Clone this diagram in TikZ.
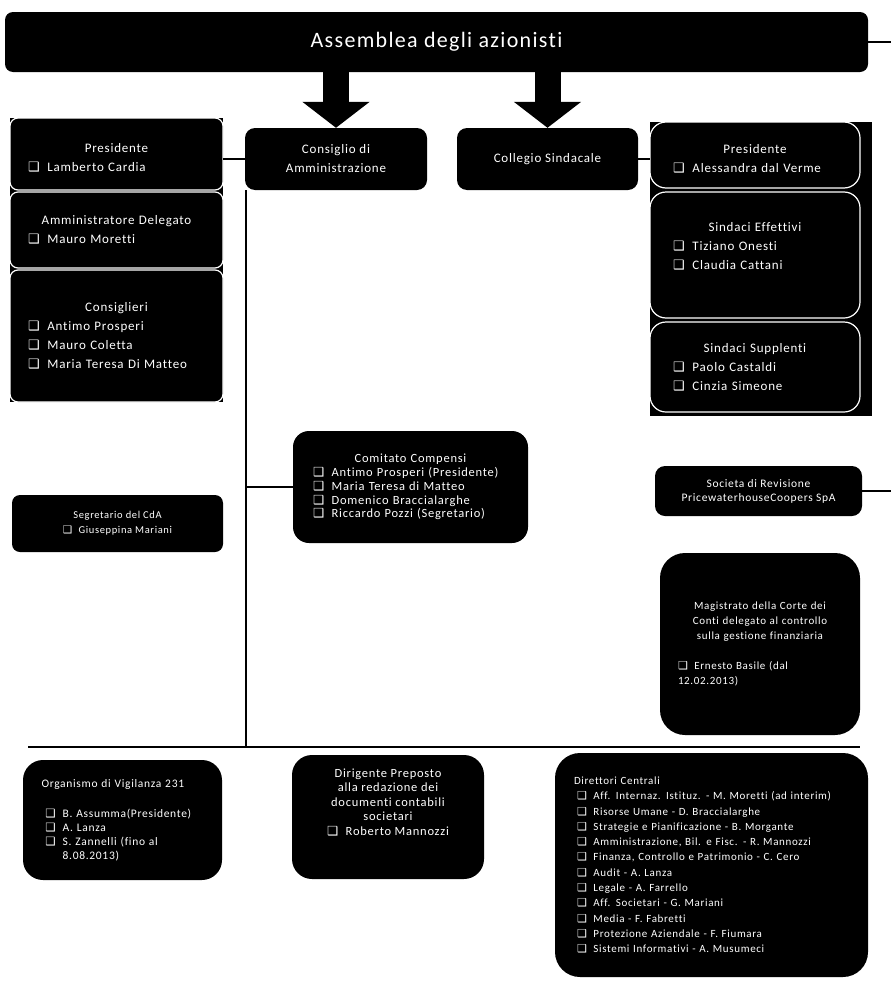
\documentclass[tikz,border=0pt]{standalone}
\usepackage{fontspec}
\setmainfont{Carlito}[LetterSpace=6,Ligatures=NoCommon]
\newfontfamily\dejavu{DejaVu Sans}
\usetikzlibrary{arrows.meta}

\newcommand\bx{{\dejavu\symbol{"2751}}}
\newcommand\itm{\bx\hspace{0.6em}}
\newcommand\hd[1]{\makebox[\hsize]{#1}\\}
\newcommand\bigtxt{\fontsize{13}{19}\selectfont}
\newcommand\midtxt{\fontsize{11.5}{14}\selectfont}
\newcommand\smalltxt{\fontsize{11}{15.3}\selectfont}

\tikzset{
  blackbox/.style={fill=black, text=white, rounded corners=#1},
  blackbox/.default=10pt,
  stackpart/.style={fill=black, draw=white, line width=1.2pt, text=white,
    rounded corners=#1, align=left, font=\bigtxt},
  link/.style={line width=1.6pt},
  blockarrow/.style={line width=26pt, -{Triangle[width=66pt,length=26pt]}},
}

\begin{document}
\begin{tikzpicture}[x=1pt,y=-1pt]
\useasboundingbox (0,0) rectangle (891,985);

% top
\node[blackbox=8pt, minimum width=863pt, minimum height=60pt,
  font=\fontsize{22}{26}\selectfont] (assemblea) at (436.5,42) {Assemblea degli azionisti};
\coordinate (assemblea-end) at (891,42);
\draw[link] (assemblea.east) -- (assemblea-end);

\node[blackbox, minimum width=182pt, minimum height=62pt, align=center, font=\bigtxt]
  (cda) at (336,159) {Consiglio di\\Amministrazione};
\node[blackbox, minimum width=181pt, minimum height=62pt, font=\bigtxt]
  (collegio) at (547.5,159) {Collegio Sindacale};
\draw[blockarrow] (assemblea.south -| cda) -- (cda.north);
\draw[blockarrow] (assemblea.south -| collegio) -- (collegio.north);

% left stack
\node[fill=black, minimum width=213pt, minimum height=284pt] (lstack) at (116.5,260) {};
\node[stackpart=8pt, minimum width=213pt, minimum height=72pt, text width=177pt]
  (lpres) at (116.5,154) {\mbox{}\\[-3pt]\hd{Presidente}\itm Lamberto Cardia};
\node[stackpart=8pt, minimum width=213pt, minimum height=76pt, text width=177pt]
  (lad) at (116.5,230) {\hd{Amministratore Delegato}\itm Mauro Moretti};
\node[stackpart=8pt, minimum width=213pt, minimum height=132pt, text width=177pt]
  (lcons) at (116.5,336) {\hd{Consiglieri}\itm Antimo Prosperi\\\itm Mauro Coletta\\\itm Maria Teresa Di Matteo};
\draw[link] (cda.west) -- (cda.west -| lstack.east);

% right stack
\node[fill=black, minimum width=222pt, minimum height=294pt] (rstack) at (761,269) {};
\node[stackpart=16pt, minimum width=210pt, minimum height=66pt, text width=164pt]
  (rpres) at (755,155) {\mbox{}\\[-3pt]\hd{Presidente}\itm Alessandra dal Verme};
\node[stackpart=16pt, minimum width=210pt, minimum height=126pt, text width=164pt]
  (rse) at (755,255) {\hd{Sindaci Effettivi}\itm Tiziano Onesti\\\itm Claudia Cattani\\\mbox{}};
\node[stackpart=16pt, minimum width=210pt, minimum height=90pt, text width=164pt]
  (rss) at (755,367) {\hd{Sindaci Supplenti}\itm Paolo Castaldi\\\itm Cinzia Simeone};
\draw[link] (collegio.east) -- (collegio.east -| rstack.west);

% trunk
\coordinate (trunk-bot) at (246,747);
\coordinate (base-l) at (28,747);
\coordinate (base-r) at (860,747);
\draw[link] (cda.south west -| trunk-bot) -- (trunk-bot);
\draw[link] (base-l) -- (base-r);

\node[blackbox=8pt, minimum width=211pt, minimum height=57pt, align=center,
  font=\fontsize{10.5}{15}\selectfont] (segretario) at (117.5,523.5)
  {Segretario del CdA\\\itm Giuseppina Mariani};

\node[blackbox=16pt, minimum width=235pt, minimum height=112pt, text width=195pt,
  align=left, font=\fontsize{12.5}{13.8}\selectfont] (comitato) at (410.5,487)
  {\hd{Comitato Compensi}\itm Antimo Prosperi (Presidente)\\\itm Maria Teresa di Matteo\\
   \itm Domenico Braccialarghe\\\itm Riccardo Pozzi (Segretario)};
\draw[link] (comitato.west) -- (comitato.west -| trunk-bot);

% right column
\node[blackbox=10pt, minimum width=207pt, minimum height=50pt, align=center, font=\midtxt]
  (societa) at (758.5,491) {Societa di Revisione\\PricewaterhouseCoopers SpA};
\coordinate (societa-end) at (891,491);
\draw[link] (societa.east) -- (societa-end);

\node[blackbox=25pt, minimum width=200pt, minimum height=182pt, text width=164pt,
  align=left, font=\fontsize{11}{15}\selectfont] (magistrato) at (760,644)
  {\hd{Magistrato della Corte dei}\hd{Conti delegato al controllo}\hd{sulla gestione finanziaria}[15pt]
   \itm Ernesto Basile (dal\\12.02.2013)};

% bottom row
\node[blackbox=20pt, minimum width=199pt, minimum height=120pt, text width=162pt,
  align=left, font=\midtxt] (odv) at (122.5,820)
  {Organismo di Vigilanza 231\\[16pt]
   \hspace{4pt}\itm B. Assumma(Presidente)\\\hspace{4pt}\itm A. Lanza\\
   \hspace{4pt}\itm S. Zannelli (fino al\\\hspace{4pt}\phantom{\itm}8.08.2013)};

\node[blackbox=20pt, minimum width=192pt, minimum height=124pt] (dirigente) at (388,817) {};
\node[text=white, align=center, font=\fontsize{12.5}{14.5}\selectfont] (dirigente-txt)
  at (388,802) {Dirigente Preposto\\alla redazione dei\\documenti contabili\\societari\\\itm Roberto Mannozzi};

\node[blackbox=25pt, minimum width=313pt, minimum height=224pt, text width=275pt,
  align=left, font=\smalltxt] (direttori) at (711.5,865)
  {Direttori Centrali\\
   \hspace{3pt}\itm Aff. Internaz. Istituz. - M. Moretti (ad interim)\\
   \hspace{3pt}\itm Risorse Umane - D. Braccialarghe\\
   \hspace{3pt}\itm Strategie e Pianificazione - B. Morgante\\
   \hspace{3pt}\itm Amministrazione, Bil. e Fisc. - R. Mannozzi\\
   \hspace{3pt}\itm Finanza, Controllo e Patrimonio - C. Cero\\
   \hspace{3pt}\itm Audit - A. Lanza\\
   \hspace{3pt}\itm Legale - A. Farrello\\
   \hspace{3pt}\itm Aff. Societari - G. Mariani\\
   \hspace{3pt}\itm Media - F. Fabretti\\
   \hspace{3pt}\itm Protezione Aziendale - F. Fiumara\\
   \hspace{3pt}\itm Sistemi Informativi - A. Musumeci};

\end{tikzpicture}
\end{document}
